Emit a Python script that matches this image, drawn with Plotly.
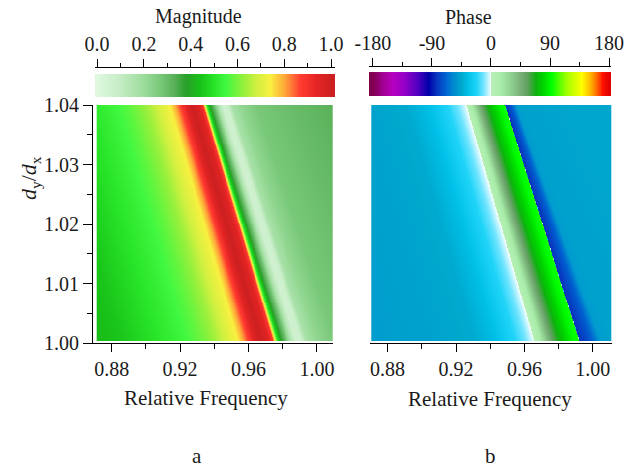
import numpy as np
import plotly.graph_objects as go

W, H = 624, 467

# ---- data ----
ratio_rows = [1.00, 1.01, 1.02, 1.03, 1.04]            # d_y/d_x
resonance_freq = [0.966, 0.956, 0.946, 0.936, 0.926]   # peak / zero-phase line
band_scale = [1.00, 0.96, 0.93, 0.89, 0.86]            # width of the band above resonance
tail_scale = [1.00, 0.90, 0.80, 0.70, 0.60]            # width of the blue phase band

# magnitude across frequency, offset from resonance
mag_offsets = [-0.100, -0.080, -0.060, -0.045, -0.035, -0.026, -0.016, -0.012, -0.0088,
               -0.0053, -0.002, 0.001, 0.006, 0.0085, 0.0098, 0.0112, 0.0134, 0.0158,
               0.019, 0.022, 0.025, 0.028, 0.034, 0.045, 0.070, 0.100]
mag_values = [0.42, 0.45, 0.50, 0.54, 0.58, 0.63, 0.71, 0.74, 0.80,
              0.88, 0.96, 1.00, 0.95, 0.88, 0.72, 0.50, 0.38, 0.30,
              0.15, 0.06, 0.07, 0.17, 0.22, 0.27, 0.30, 0.33]

# phase (degrees) across frequency, offset from resonance
phase_jump = 0.0263
phase_offsets = [-0.100, -0.055, -0.035, -0.023, -0.011, -0.005, -0.001, 0.0, 0.0005,
                 0.004, 0.008, 0.011, 0.0158, 0.0228, 0.0263, 0.0266, 0.030, 0.034,
                 0.037, 0.039, 0.045, 0.100]
phase_values = [-50, -47, -44, -36, -22, -12, -3, 0, 4,
                15, 40, 55, 72, 90, 95, -84, -78, -70,
                -58, -50, -48, -46]

freq_ticks = [0.88, 0.92, 0.96, 1.00]
ratio_ticks = [1.00, 1.01, 1.02, 1.03, 1.04]
mag_ticks = [0.0, 0.2, 0.4, 0.6, 0.8, 1.0]
phase_ticks = [-180, -90, 0, 90, 180]
phase_ticktext = ["-180", "-90", "0", "90", "180"]

mag_colors = [
    [0.00, "#e0f8e0"], [0.10, "#c4ecc4"], [0.20, "#9cdc9c"], [0.27, "#78c878"],
    [0.33, "#58b058"], [0.38, "#28a028"], [0.44, "#18c018"], [0.50, "#28e428"],
    [0.55, "#40f840"], [0.62, "#90f03c"], [0.68, "#d0f040"], [0.74, "#f8f040"],
    [0.80, "#ffa838"], [0.87, "#ff3a30"], [0.94, "#e42424"], [1.00, "#cc2020"],
]
phase_stops = [
    (-180, "#800050"), (-165, "#a00090"), (-150, "#b800c0"), (-130, "#9000c8"),
    (-112, "#5000c0"), (-95, "#0000a8"), (-82, "#0838c0"), (-70, "#0060d0"),
    (-55, "#0090d0"), (-45, "#00a8cc"), (-35, "#00c0e8"), (-22, "#20d4f8"),
    (-12, "#70e4ff"), (-4, "#c8f6ff"), (0, "#ffffff"), (0.8, "#b8f0b8"),
    (15, "#a8eca8"), (30, "#90d090"), (45, "#78b078"), (55, "#60a060"),
    (68, "#10b010"), (78, "#00d000"), (92, "#00ff00"), (115, "#a0ff00"),
    (138, "#ffff00"), (150, "#ffc000"), (160, "#ff7000"), (170, "#ff1000"),
    (180, "#e00000"),
]
phase_colors = [[(v + 180) / 360, c] for v, c in phase_stops]


def field(x, y, offsets, values, jump=None):
    X, Y = np.meshgrid(x, y)
    f0 = np.interp(Y, ratio_rows, resonance_freq)
    s = np.interp(Y, ratio_rows, band_scale)
    d = X - f0
    d = np.where(d > 0, d / s, d)
    if jump is not None:
        t = np.interp(Y, ratio_rows, tail_scale)
        d = np.where(d > jump, jump + (d - jump) / t, d)
    return np.interp(d, offsets, values)


rows = np.linspace(1.0005, 1.04, 120)
mag_x = np.linspace(0.8714, 1.0088, 480)
ph_x = np.linspace(0.8706, 1.0105, 480)
mag_z = field(mag_x, rows, mag_offsets, mag_values)
ph_z = field(ph_x, rows, phase_offsets, phase_values, jump=phase_jump)

mag_levels = np.linspace(-0.01, 1.02, 300)
ph_levels = np.linspace(-186, 183, 370)

font_family = "Liberation Serif, Times New Roman, serif"
txt = "#1a1a1a"

fig = go.Figure()
fig.add_trace(go.Heatmap(x=mag_x, y=rows, z=mag_z, colorscale=mag_colors, zmin=0, zmax=1,
                         showscale=False, xaxis="x", yaxis="y", hoverinfo="skip"))
fig.add_trace(go.Heatmap(x=ph_x, y=rows, z=ph_z, colorscale=phase_colors, zmin=-180, zmax=180,
                         showscale=False, xaxis="x2", yaxis="y2", hoverinfo="skip"))
fig.add_trace(go.Heatmap(x=mag_levels, y=[0.5], z=[np.clip(mag_levels, 0, 1)], colorscale=mag_colors,
                         zmin=0, zmax=1, showscale=False, xaxis="x3", yaxis="y3", hoverinfo="skip"))
fig.add_trace(go.Heatmap(x=ph_levels, y=[0.5], z=[np.clip(ph_levels, -180, 180)], colorscale=phase_colors,
                         zmin=-180, zmax=180, showscale=False, xaxis="x4", yaxis="y4", hoverinfo="skip"))


def px_x(a, b):
    return [a / W, b / W]


def px_y(top, bottom):
    return [1 - bottom / H, 1 - top / H]


axis_common = dict(showline=True, linecolor="black", linewidth=1, ticks="outside",
                   tickcolor="black", tickwidth=1, showgrid=False, zeroline=False,
                   automargin=False, ticklabeloverflow="allow",
                   tickfont=dict(family=font_family, size=20, color=txt))

fig.update_layout(
    width=W, height=H, margin=dict(l=0, r=0, t=0, b=0, pad=0, autoexpand=False),
    paper_bgcolor="white", plot_bgcolor="white", showlegend=False,
    xaxis=dict(domain=px_x(93, 333), range=[0.8691, 1.0094], anchor="y",
               tickvals=freq_ticks, tickformat=".2f", ticklen=8,
               minor=dict(ticks="outside", tick0=0.88, dtick=0.02, ticklen=5, tickcolor="black"),
               **axis_common),
    yaxis=dict(domain=px_y(105, 343), range=[1.0, 1.04], anchor="x",
               tickvals=ratio_ticks, tickformat=".2f", ticklen=9,
               minor=dict(ticks="outside", tick0=1.0, dtick=0.005, ticklen=5, tickcolor="black"),
               **axis_common),
    xaxis2=dict(domain=px_x(370, 612), range=[0.8697, 1.0112], anchor="y2",
                tickvals=freq_ticks, tickformat=".2f", ticklen=8,
                minor=dict(ticks="outside", tick0=0.88, dtick=0.02, ticklen=5, tickcolor="black"),
                **axis_common),
    yaxis2=dict(domain=px_y(105, 343), range=[1.0, 1.04], anchor="x2", visible=False,
                automargin=False),
    xaxis3=dict(domain=px_x(95, 335), range=[-0.009, 1.017], anchor="y3", side="top",
                tickvals=mag_ticks, tickformat=".1f", ticklen=8,
                minor=dict(ticks="outside", tick0=0, dtick=0.1, ticklen=4, tickcolor="black"),
                **axis_common),
    yaxis3=dict(domain=px_y(68, 97), range=[0, 1.26], anchor="x3", visible=False,
                automargin=False),
    xaxis4=dict(domain=px_x(369, 611), range=[-186, 183], anchor="y4", side="top",
                tickvals=phase_ticks, ticktext=phase_ticktext, ticklen=8,
                minor=dict(ticks="outside", tick0=-180, dtick=45, ticklen=4, tickcolor="black"),
                **axis_common),
    yaxis4=dict(domain=px_y(67, 96), range=[0, 1.21], anchor="x4", visible=False,
                automargin=False),
)


def label(text, x, y, size=20, angle=0):
    fig.add_annotation(text=text, x=x / W, y=1 - y / H, xref="paper", yref="paper",
                       showarrow=False, textangle=angle, xanchor="center", yanchor="middle",
                       font=dict(family=font_family, size=size, color=txt))


label("Magnitude", 198, 16)
label("Phase", 468, 17)
label("Relative Frequency", 206, 398, size=21)
label("Relative Frequency", 490, 399, size=21)
label("<i>d</i><sub>y</sub>/<i>d</i><sub>x</sub>", 30, 178, size=22, angle=-90)
label("a", 197, 456, size=21)
label("b", 490, 456, size=21)

fig.write_html("out.html", config={"displayModeBar": False, "staticPlot": True},
               post_script="document.body.style.margin='0';document.body.style.overflow='hidden';")
